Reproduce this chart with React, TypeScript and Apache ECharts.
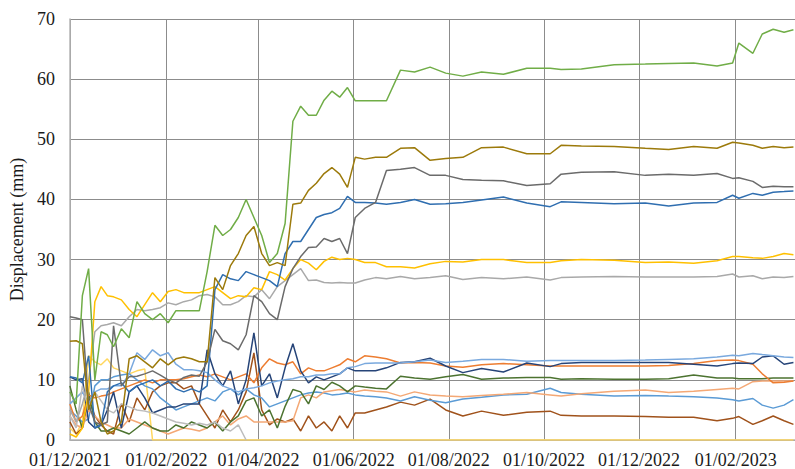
import React, { useEffect, useRef } from 'react';
import * as echarts from 'echarts';

const dates = [
  '2021-12-01','2021-12-05','2021-12-09','2021-12-13','2021-12-17','2021-12-21','2021-12-25','2021-12-29',
  '2022-01-03','2022-01-08','2022-01-13','2022-01-18','2022-01-23','2022-01-28','2022-02-02','2022-02-07',
  '2022-02-12','2022-02-17','2022-02-22','2022-02-27','2022-03-04','2022-03-09','2022-03-14','2022-03-19',
  '2022-03-24','2022-03-29','2022-04-03','2022-04-08','2022-04-13','2022-04-18','2022-04-23','2022-04-28',
  '2022-05-03','2022-05-08','2022-05-13','2022-05-18','2022-05-23','2022-05-28','2022-06-02','2022-06-08',
  '2022-06-15','2022-06-22','2022-07-01','2022-07-10','2022-07-20','2022-07-30','2022-08-10','2022-08-22',
  '2022-09-05','2022-09-20','2022-10-05','2022-10-12','2022-10-25','2022-11-15','2022-12-05','2022-12-20',
  '2023-01-05','2023-01-20','2023-01-30','2023-02-03','2023-02-12','2023-02-18','2023-02-25','2023-03-04',
  '2023-03-10'
];

const xTickDates = ['2021-12-01','2022-02-01','2022-04-01','2022-06-01','2022-08-01','2022-10-01','2022-12-01','2023-02-01'];
const xMin = '2021-12-01';
const xMax = '2023-03-11';

const green = [8,6,24,28.5,10,18,17.5,15.5,18.5,17,23,21,20,21,19.5,21.5,21.5,21.5,21.5,28,35.7,34,35,37,40,37,34,29.5,31,36,53,55.5,54,54,56.5,58,57,58.6,56.4,56.4,56.4,56.4,61.5,61.2,62,61,60.5,61.2,60.8,61.8,61.8,61.6,61.7,62.4,62.5,62.6,62.7,62.2,62.7,66,64.3,67.5,68.3,67.8,68.2];
const darkGold = [16.4,16.5,16,5,8,3,1,1.5,3,13.5,14,13,12,13.5,12.5,13.5,13.8,13.5,13,13,27,25,29,31,34,35.5,31,29,29.5,29,39.2,39.4,41.5,42.7,44.3,45.3,44.2,42,47,46.7,47,47,48.5,48.6,46.5,46.8,47,48.6,48.7,47.6,47.6,49,48.9,48.8,48.5,48.3,48.8,48.5,49.5,49.4,49,48.5,48.8,48.6,48.7];
const darkGray = [20.5,20.3,20,6,3,2.5,3,19,9,10.5,10.6,11,11.5,10.8,10,9.5,10.4,10.8,10.6,13,18.4,16.5,16,15,17.5,24,23,21,20,25.5,28.5,30.5,32,32.1,33.5,33,33.5,31,37,38.5,39.5,44.8,45,45.3,44,44,43.3,43.2,43.1,42.3,42.6,44.2,44.5,44.6,44,44.2,44,44.3,43.5,43.6,43,42,42.2,42.1,42.1];
const blue = [10.5,10.3,9.5,14,2,2.5,8,9,9.5,8,9,9.5,10,9,9.8,8.5,8,8.5,8,9,25,27.5,26.8,26.5,28,27.5,27,26.5,25.5,31,33,33,35,37,37.5,37.8,38.5,40.5,39.5,39.5,39.4,39.2,39.5,40,39.2,39.3,39.5,39.9,40.4,39.4,38.8,39.6,39.5,39.3,39.4,38.9,39.4,39.5,40.7,40.2,41,40.7,41.2,41.3,41.4];
const gold = [1,0.5,2,8,23,25.5,24,23.8,23.3,21.7,20.5,22.5,24.5,23,24.7,25,24.5,24.5,24.5,25,25.5,24.5,23.5,24,23.8,25.3,25,28,27.5,26.6,28.5,30,29.4,28.3,29.7,30.4,30,30.2,30,29.5,29.5,28.8,28.8,28.6,29.3,29.7,29.6,30,30,29.5,29.5,29.8,30,29.9,29.5,29.6,29.4,29.8,30.5,30.5,30.3,30.2,30.5,31,30.8];
const lightGray = [5,3,6,10,18,19,19.2,19.5,19,20.5,21.7,21.5,21.7,22,22.8,22.5,23,23.3,24,24.2,23.8,22.5,22.5,23,24,23.8,25,23.5,25.5,26.5,27.5,28.5,26.5,26.6,26.2,26.1,26.2,26.1,26.1,26.6,27,26.8,27.2,26.8,27,27.3,26.7,27,26.8,27.1,26.6,27,27.1,27.2,27.1,27.1,27.1,27.2,27.6,27.1,27.3,26.8,27.1,27,27.2];
const paleGray = [4,2,9,5,8,6.5,5,4.5,6,5.5,5,4.8,4.5,4,3.5,3,2.8,2.5,2.8,2.5,3,2,1.5,2.5,0];
const paleYellow = [2,1,3,14,13,12.5,13.5,12,11.5,11,11.5,11.8,0,0,0,0,0,0,0,0,0,0,0,0,0,0,0,0,0,0,0,0,0,0,0,0,0,0,0,0,0,0,0,0,0,0,0,0,0,0,0,0,0,0,0,0,0,0,0,0,0,0,0,0,0];
const lightBlue = [6,7,8,6,8,8.5,8.5,9,9,11,14.5,13.4,15,14,14.5,12.6,11.7,11.7,11.5,11.2,10,9,8.5,8,8.5,8.7,9,9.5,9.8,10,10.2,10.5,10.5,10.8,10.8,11,11,12,12.2,12.7,12.8,12.8,12.8,13,13.3,12.9,13.1,13.4,13.4,13.1,13.2,13.2,13.2,13.2,13.3,13.4,13.5,13.8,14.1,14,14.4,14.2,14,13.8,13.7];
const navy = [10.5,10,10.2,3,2,2.5,5,8,2,8,9,7,4.5,5,5.5,5.5,6,6,6,15,11,9,11.5,6,10,17.8,9,11,7,12,16,11.5,9.5,10.5,10,10.5,11,12,11.5,11.5,11.5,12,12.9,13,13.6,12.3,11.2,11.9,11.3,12.8,12.2,12.7,12.9,12.9,12.9,12.9,12.6,12.3,12.7,12.8,12.7,13.8,14,12.6,12.9];
const orange = [6,3,4,7.5,7,7.3,7.5,8,8.5,9,9.5,10,9.5,10,10,10,10.2,10.5,10.8,10.5,11,10.5,10,10.5,11,9.5,12,13.5,12.8,12.5,13,11,12,11.5,11.5,12,12.5,13.5,13,14,13.8,13.5,12.8,12.9,12.8,12.3,12.1,12.5,12.7,12.5,12.3,12.3,12.3,12.3,12.3,12.4,12.7,13.2,13.3,13.2,12.6,11,9.5,9.6,9.8];
const darkGreen = [9,5,2,8,3,1.5,1.5,2,1.5,1,2,3,2,1.5,1.5,2.5,2,3,2.5,2,3,1.5,3,4,6.5,7,4,5,2,5.6,8.4,8,6,9,8.4,9.6,9,8,9,8.8,8.6,8.5,10.6,10.3,10.1,10.5,10.9,10.1,10.3,10.4,10.4,10.1,10.2,10.1,10.1,10.2,10.8,10.3,10.3,10.2,10.2,10.2,10.3,10.3,10.3];
const lightOrange = [4,2.5,2,5,4,3,2.5,2,2,3.5,3,2.5,2,1.5,1,1.5,2,1.8,1.5,2,3,4,2.5,3.5,4,3,3,3,3,3,3.2,7,7.5,7,8,8.2,8.4,8.2,8,8.3,8.1,8,7.3,8,7.5,7.3,7.2,7.4,7.6,7.9,7.5,7.3,7.7,8.1,8.3,7.9,8.1,8.4,8.6,8.5,9.7,9.8,9.8,9.8,9.8];
const midBlue = [5,4,3,3.5,9,10,10,10.5,10.8,11,10,9,8.5,7,6,5,5.5,6,6.5,7,6.5,8,8.5,7.5,8.5,7.5,7,5.5,6,6.5,7,7.5,7.8,8,7.8,7.5,7.6,7.8,7.5,7.3,7.2,7,6.5,7.2,6.6,6.2,6.8,7.1,7.5,7.6,8.6,7.9,7.6,7.3,7.4,7.3,7.2,7,6.7,6.5,6.9,5.8,5.3,5.8,6.7];
const brown = [3,1,2,7,4,2.5,1.5,1,6,3,7,5,8,9,9.5,9.5,8.5,9,6,4,2,5,3,5,8,14.5,5,2.5,3.5,3,3.5,1.5,4,2,3,1.5,4,2,4.5,4.5,5,5.5,6.3,5.8,6.8,5,4,4.8,4.1,4.6,4.8,4.1,4,4,3.9,3.8,3.8,3.2,3.6,3.9,2.6,3.2,4,3.2,2.6];

const seriesDefs = [
  { name: 'S14', values: paleYellow, color: '#FFD75E' },
  { name: 'S13', values: brown, color: '#A0521B' },
  { name: 'S12', values: midBlue, color: '#5B9BD5' },
  { name: 'S11', values: lightOrange, color: '#F4A875' },
  { name: 'S10', values: darkGreen, color: '#4C7330' },
  { name: 'S9', values: orange, color: '#ED7D31' },
  { name: 'S8', values: navy, color: '#264478' },
  { name: 'S7', values: lightBlue, color: '#7AA9DE' },
  { name: 'S15', values: paleGray, color: '#BDBDBD' },
  { name: 'S6', values: lightGray, color: '#A9A9A9' },
  { name: 'S5', values: gold, color: '#FFC000' },
  { name: 'S4', values: blue, color: '#2F6EB0' },
  { name: 'S3', values: darkGray, color: '#6B6B6B' },
  { name: 'S2', values: darkGold, color: '#9C7A0B' },
  { name: 'S1', values: green, color: '#70AD47' },
];

const toTs = (s: string) => {
  const [y, m, d] = s.split('-').map(Number);
  return new Date(y, m - 1, d).getTime();
};
const pad = (n: number) => (n < 10 ? '0' + n : '' + n);
const fmt = (v: number) => {
  const d = new Date(v);
  return pad(d.getDate()) + '/' + pad(d.getMonth() + 1) + '/' + d.getFullYear();
};

const FONT = '"Liberation Serif", "Times New Roman", serif';

export default function App() {
  const ref = useRef<HTMLDivElement>(null);
  useEffect(() => {
    if (!ref.current) return;
    const chart = echarts.init(ref.current, undefined, { renderer: 'svg' });
    const ticks = xTickDates.map(toTs);
    chart.setOption({
      animation: false,
      grid: { left: 63, right: 0, top: 19, bottom: 27, containLabel: false },
      xAxis: {
        type: 'value',
        min: toTs(xMin),
        max: toTs(xMax),
        axisLine: { show: true, lineStyle: { color: '#b5b5b5', width: 1.5 } },
        axisTick: { show: false, customValues: ticks },
        axisLabel: {
          customValues: ticks,
          formatter: (v: number) => fmt(v),
          fontFamily: FONT,
          fontSize: 18,
          color: '#1a1a1a',
          margin: 11,
          hideOverlap: false,
        },
        splitLine: { show: true, lineStyle: { color: '#8c8c8c', width: 1 } },
      },
      yAxis: {
        type: 'value',
        min: 0,
        max: 70,
        interval: 10,
        name: 'Displacement (mm)',
        nameLocation: 'middle',
        nameGap: 36,
        nameTextStyle: { fontFamily: FONT, fontSize: 18, color: '#1a1a1a' },
        axisLine: { show: true, lineStyle: { color: '#b5b5b5', width: 1.5 } },
        axisTick: { show: false },
        axisLabel: { fontFamily: FONT, fontSize: 18, color: '#1a1a1a', margin: 15 },
        splitLine: { show: true, lineStyle: { color: '#8c8c8c', width: 1 } },
      },
      series: seriesDefs.map((s) => ({
        name: s.name,
        type: 'line',
        showSymbol: false,
        symbol: 'none',
        data: s.values.map((v, i) => [toTs(dates[i]), v]),
        lineStyle: { color: s.color, width: 1.5 },
        itemStyle: { color: s.color },
      })),
    });
    return () => chart.dispose();
  }, []);
  return (
    <div
      ref={ref}
      style={{ position: 'absolute', left: 0, top: 0, width: 795, height: 469 }}
    />
  );
}
